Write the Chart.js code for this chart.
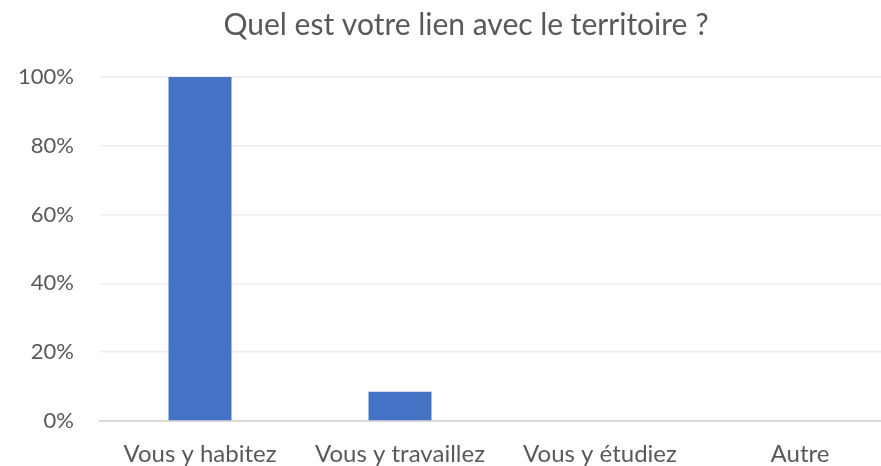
<!DOCTYPE html>
<html>
<head>
<meta charset="utf-8">
<script src="https://cdn.jsdelivr.net/npm/chart.js@4/dist/chart.umd.min.js"></script>
<style>
  html, body { margin: 0; padding: 0; background: #fff; overflow: hidden; }
  #wrap { width: 932px; height: 466px; overflow: hidden; }
</style>
</head>
<body>
<div id="wrap"><canvas id="chart" width="932" height="466"></canvas></div>
<script>
// Data
const TITLE = 'Quel est votre lien avec le territoire ?';
const CATEGORIES = ['Vous y habitez', 'Vous y travaillez', 'Vous y étudiez', 'Autre'];
const VALUES = [100, 8.5, 0, 0];
const Y_TICKS = [0, 20, 40, 60, 80, 100];

const TEXT_COLOR = '#595959';
const FONT = 'Lato, "Noto Sans", sans-serif';

// centre the title on the full canvas, not just the padded box
const titleShift = {
    id: 'titleShift',
    afterLayout(c) { if (c.titleBlock) c.titleBlock.right = c.width; }
};

const ctx = document.getElementById('chart').getContext('2d');
const chart = new Chart(ctx, {
    type: 'bar',
    data: {
        labels: CATEGORIES,
        datasets: [{ data: VALUES, backgroundColor: '#4472c4', categoryPercentage: 1, barPercentage: 0.315 }]
    },
    plugins: [titleShift],
    options: {
        responsive: false,
        animation: false,
        layout: { padding: { left: 0, right: 32, top: 0, bottom: 0 } },
        plugins: {
            legend: { display: false },
            tooltip: { enabled: false },
            title: {
                display: true,
                text: TITLE,
                color: TEXT_COLOR,
                font: { family: FONT, size: 30, weight: 'normal' },
                padding: { top: 7, bottom: 34 }
            }
        },
        scales: {
            x: {
                afterFit: s => { s.height = 45; },
                grid: { display: false, drawTicks: false },
                border: { color: '#d9d9d9', width: 2 },
                ticks: { color: TEXT_COLOR, font: { family: FONT, size: 24 }, padding: 19 }
            },
            y: {
                min: 0, max: 100,
                afterFit: s => { s.width = 100; },
                afterBuildTicks: s => { s.ticks = Y_TICKS.map(v => ({ value: v })); },
                grid: { color: '#ededed', lineWidth: 1.5, drawTicks: false },
                border: { display: false },
                ticks: {
                    color: TEXT_COLOR, font: { family: FONT, size: 22 }, padding: 26,
                    callback: v => v + '%'
                }
            }
        }
    }
});
</script>
</body>
</html>
